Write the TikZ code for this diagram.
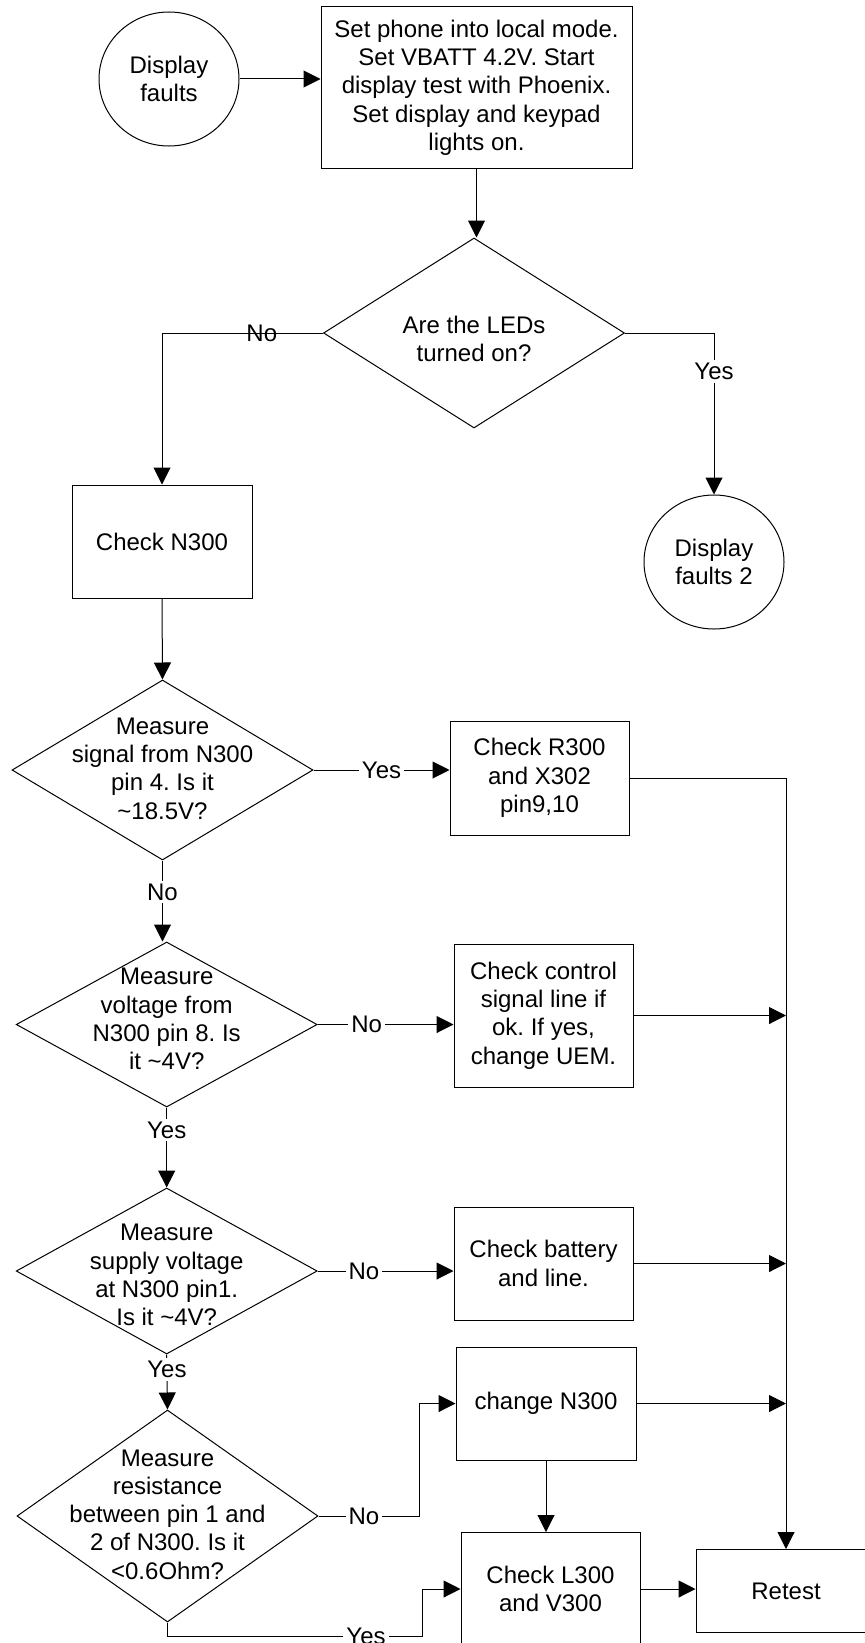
\documentclass[tikz,border=0pt]{standalone}
\usepackage{fontspec}
\setmainfont{Liberation Sans}
\usetikzlibrary{arrows.meta,shapes.geometric}
\frenchspacing
\tikzset{
  txt/.style      = {font=\fontsize{12}{14.15}\selectfont, align=center, inner sep=0pt},
  stepbox/.style  = {draw, line width=0.5pt, txt},
  termnode/.style = {draw, ellipse, line width=0.5pt, txt, minimum width=70pt, minimum height=67pt},
  decision/.style = {draw, diamond, line width=0.5pt, inner sep=0pt},
  flow/.style     = {-{Triangle[length=8.5pt,width=8.5pt]}, line width=0.5pt},
  wire/.style     = {line width=0.5pt},
  lbl/.style      = {txt, fill=white, inner sep=1.5pt},
}
\begin{document}
\begin{tikzpicture}[x=0.5pt,y=-0.5pt]
  \useasboundingbox (0,0) rectangle (865,1643);
  % start and first step
  \node[termnode] (start) at (169,79) {Display\\faults};
  \node[stepbox,minimum width=155.5pt,minimum height=80.5pt] (setup) at (476.5,87.5) {Set phone into local mode.\\Set VBATT 4.2V. Start\\display test with Phoenix.\\Set display and keypad\\lights on.};
  \node[decision,minimum width=150.5pt,minimum height=95pt] (leds) at (474,333) {};
  \node[txt] (ledst) at (474,339) {Are the LEDs\\turned on?};
  \node[termnode] (faults2) at (714,562) {Display\\faults 2};
  \node[stepbox,minimum width=90pt,minimum height=56.5pt] (n300) at (162,541.5) {Check N300};
  % measurements
  \node[decision,minimum width=150.5pt,minimum height=90pt] (sig) at (162.5,770) {};
  \node[txt] (sigt) at (162.5,768.5) {Measure\\signal from N300\\pin 4. Is it\\\textasciitilde18.5V?};
  \node[stepbox,minimum width=89.5pt,minimum height=57pt] (r300) at (539.5,778) {Check R300\\and X302\\pin9,10};
  \node[decision,minimum width=150.5pt,minimum height=82.5pt] (ctlv) at (166.7,1024.5) {};
  \node[txt] (ctlvt) at (166.7,1019) {Measure\\voltage from\\N300 pin 8. Is\\it \textasciitilde4V?};
  \node[stepbox,minimum width=89.5pt,minimum height=71.5pt] (ctl) at (543.5,1015.5) {Check control\\signal line if\\ok. If yes,\\change UEM.};
  \node[decision,minimum width=150.5pt,minimum height=83pt] (sup) at (166.7,1271) {};
  \node[txt] (supt) at (166.7,1275) {Measure\\supply voltage\\at N300 pin1.\\Is it \textasciitilde4V?};
  \node[stepbox,minimum width=89.5pt,minimum height=56.5pt] (bat) at (543.5,1263.5) {Check battery\\and line.};
  \node[decision,minimum width=150.5pt,minimum height=106pt] (res) at (167.5,1516) {};
  \node[txt] (rest) at (167.5,1514.5) {Measure\\resistance\\between pin 1 and\\2 of N300. Is it\\<0.6Ohm?};
  \node[stepbox,minimum width=90pt,minimum height=56.5pt] (chg) at (546,1403.5) {change N300};
  \node[stepbox,minimum width=89.5pt,minimum height=56.5pt] (l300) at (550.5,1589) {Check L300\\and V300};
  \node[stepbox,minimum width=90pt,minimum height=41.5pt] (retest) at (786,1591) {Retest};
  \coordinate (bus) at (786,778);
  % connectors
  \draw[flow] (start.east) -- (start.east -| setup.west);
  \draw[flow] (setup.south) -- (setup.south |- leds.north);
  \draw[flow] (leds.west) -| node[txt,pos=0.19]{No} (n300.north);
  \draw[flow] (leds.east) -| node[lbl,pos=0.62]{Yes} (faults2.north);
  \draw[flow] (n300.south) -- (sig.north);
  \draw[flow] (sig.east) -- node[lbl]{Yes} (sig.east -| r300.west);
  \draw[flow] (sig.south) -- node[lbl,pos=0.39]{No} (sig.south |- ctlv.north);
  \draw[flow] (ctlv.east) -- node[lbl,pos=0.36]{No} (ctlv.east -| ctl.west);
  \draw[flow] (ctlv.south) -- node[lbl,pos=0.28]{Yes} (sup.north);
  \draw[flow] (sup.east) -- node[lbl,pos=0.34]{No} (sup.east -| bat.west);
  \draw[flow] (sup.south) -- node[lbl,pos=0.27]{Yes} (res.north);
  \draw[flow] (res.east) -- node[lbl,pos=0.45]{No} ++(101,0) |- (chg.west);
  \draw[flow] (res.south) -- ++(0,14) -- node[lbl,pos=0.78]{Yes} ++(254.5,0) |- (l300.west);
  \draw[flow] (chg.south) -- (chg.south |- l300.north);
  \draw[flow] (l300.east) -- (l300.east -| retest.west);
  \draw[wire] (r300.east) -- (bus);
  \draw[flow] (bus) -- (retest.north);
  \draw[flow] (ctl.east) -- (ctl.east -| bus);
  \draw[flow] (bat.east) -- (bat.east -| bus);
  \draw[flow] (chg.east) -- (chg.east -| bus);
\end{tikzpicture}
\end{document}
